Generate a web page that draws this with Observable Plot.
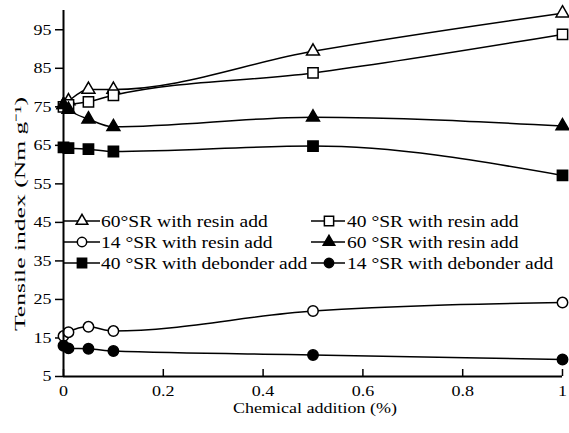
<!DOCTYPE html>
<html>
<head>
<meta charset="utf-8">
<script src="https://cdn.jsdelivr.net/npm/d3@7"></script>
<script src="https://cdn.jsdelivr.net/npm/@observablehq/plot@0.6"></script>
<style>
  html, body { margin: 0; padding: 0; background: white; }
  #chart { position: relative; width: 569px; height: 433px; }
</style>
</head>
<body>
<div id="chart"></div>
<script>
// ---- data ----
const xValues = [0, 0.01, 0.05, 0.1, 0.5, 1];
const seriesNames = [
  "60°SR with resin add",
  "40 °SR with resin add",
  "14 °SR with resin add",
  "60 °SR with resin add",
  "40 °SR with debonder add",
  "14 °SR with debonder add"
];
const sr60ResinOpen   = [75.5, 76.5, 79.5, 79.5, 89.4, 99.3];
const sr40ResinOpen   = [75.0, 75.5, 76.3, 78.0, 83.8, 93.8];
const sr14ResinOpen   = [15.5, 16.5, 17.9, 16.8, 22.0, 24.2];
const sr60ResinFilled = [75.5, 74.3, 71.8, 69.8, 72.3, 70.0];
const sr40Debonder    = [64.5, 64.3, 64.0, 63.4, 64.8, 57.2];
const sr14Debonder    = [13.0, 12.3, 12.2, 11.6, 10.6, 9.4];
const seriesValues = [sr60ResinOpen, sr40ResinOpen, sr14ResinOpen, sr60ResinFilled, sr40Debonder, sr14Debonder];
const seriesSymbols = ["triangle", "square", "circle", "triangle", "square", "circle"];
const seriesFilled = [false, false, false, true, true, true];
const yTicks = [5, 15, 25, 35, 45, 55, 65, 75, 85, 95];
const xTicks = [0, 0.2, 0.4, 0.6, 0.8, 1];
const xLabel = "Chemical addition (%)";
const yLabel = "Tensile index (Nm g⁻¹)";

// ---- styling ----
const symR = {triangle: 4.8, square: 5.8, circle: 5.2};
const FONT = "Liberation Serif, Times New Roman, Times, serif";

const rows = [];
seriesNames.forEach((name, i) => {
  xValues.forEach((x, j) => rows.push({series: name, idx: i, x, y: seriesValues[i][j]}));
});

const marks = [];
seriesNames.forEach((name, i) => {
  const d = rows.filter(r => r.idx === i);
  marks.push(Plot.line(d, {x: "x", y: "y", curve: "monotone-x", stroke: "black", strokeWidth: 1.5}));
});
seriesNames.forEach((name, i) => {
  const d = rows.filter(r => r.idx === i);
  marks.push(Plot.dot(d, {
    x: "x", y: "y", symbol: () => seriesSymbols[i], r: symR[seriesSymbols[i]],
    fill: seriesFilled[i] ? "black" : "white", stroke: "black", strokeWidth: 1.5
  }));
});

const chart = Plot.plot({
  width: 569, height: 433,
  marginLeft: 63, marginRight: 7, marginTop: 10, marginBottom: 57,
  x: {domain: [0, 1]},
  y: {domain: [5, 100]},
  symbol: {type: "identity"},
  style: {fontFamily: FONT, fontSize: "15px", color: "black", background: "white"},
  marks: [
    Plot.axisY({ticks: yTicks, tickSize: 8, tickPadding: 4, tickFormat: d => String(d), label: null, strokeWidth: 1.5, className: "tick-y"}),
    Plot.axisX({ticks: xTicks, tickSize: 0, tickPadding: 9, tickFormat: d => String(d), label: null, className: "tick-x"}),
    Plot.tickX(xTicks, {x: d => d, insetTop: 359, stroke: "black", strokeWidth: 1.5}),
    ...marks,
    Plot.ruleY([5], {stroke: "black", strokeWidth: 2}),
    Plot.ruleX([0], {stroke: "black", strokeWidth: 2})
  ]
});
document.getElementById("chart").appendChild(chart);

const svg = d3.select(chart);

// ---- axis titles ----
svg.append("text").attr("class", "xtitle")
  .attr("x", 315).attr("y", 413).attr("text-anchor", "middle")
  .attr("font-family", FONT).attr("font-size", 15).attr("fill", "black")
  .text(xLabel);
svg.append("text").attr("class", "ytitle")
  .attr("transform", "translate(25,331) rotate(-90)")
  .attr("text-anchor", "start")
  .attr("font-family", FONT).attr("font-size", 15).attr("fill", "black")
  .text(yLabel);

// ---- legend (inside plot, 3 rows x 2 cols) ----
const legCols = [{x0: 63, x1: 100, xm: 82, xt: 101}, {x0: 311, x1: 345, xm: 329, xt: 347}];
const legRows = [221, 242, 263];
const lg = svg.append("g").attr("class", "legend");
seriesNames.forEach((name, i) => {
  const c = legCols[i % 2], yy = legRows[Math.floor(i / 2)];
  lg.append("line").attr("x1", c.x0).attr("x2", c.x1).attr("y1", yy).attr("y2", yy)
    .attr("stroke", "black").attr("stroke-width", 1.5);
  const sym = {triangle: d3.symbolTriangle, square: d3.symbolSquare, circle: d3.symbolCircle}[seriesSymbols[i]];
  const r = symR[seriesSymbols[i]] * 0.9;
  lg.append("path").attr("d", d3.symbol(sym, Math.PI * r * r)())
    .attr("transform", `translate(${c.xm},${yy})`)
    .attr("fill", seriesFilled[i] ? "black" : "white").attr("stroke", "black").attr("stroke-width", 1.5);
  lg.append("text").attr("class", "legtext").attr("x", c.xt).attr("y", yy).attr("dy", "0.35em")
    .attr("text-anchor", "start")
    .attr("font-family", FONT).attr("font-size", 16).attr("fill", "black").text(name);
});

// ---- fit text widths to the reference (Times metrics, slightly wide glyphs) ----
const timesW = {" ":250,"0":500,"1":500,"2":500,"3":500,"4":500,"5":500,"6":500,"7":500,"8":500,"9":500,
  ".":250,"°":400,"S":556,"R":667,"w":722,"i":278,"t":278,"h":500,"r":333,"e":444,"s":389,"n":500,
  "a":444,"d":500,"b":500,"o":500,"C":667,"m":778,"l":278,"c":444,"(":333,")":333,"%":833,"T":611,
  "x":500,"N":722,"g":500,"⁻":340,"¹":300};
function emWidth(str) { let w = 0; for (const ch of str) w += (timesW[ch] ?? 500); return w / 1000; }
function fit(el, target) {
  if (!el.getComputedTextLength()) return;
  el.setAttribute("textLength", target);
  el.setAttribute("lengthAdjust", "spacingAndGlyphs");
}
chart.querySelectorAll("text").forEach(t => {
  const s = t.textContent;
  if (t.classList.contains("ytitle")) fit(t, 234);
  else if (t.classList.contains("legtext")) fit(t, emWidth(s) * 16 * 1.22);
  else fit(t, emWidth(s) * 15 * 1.2);
});
</script>
</body>
</html>
